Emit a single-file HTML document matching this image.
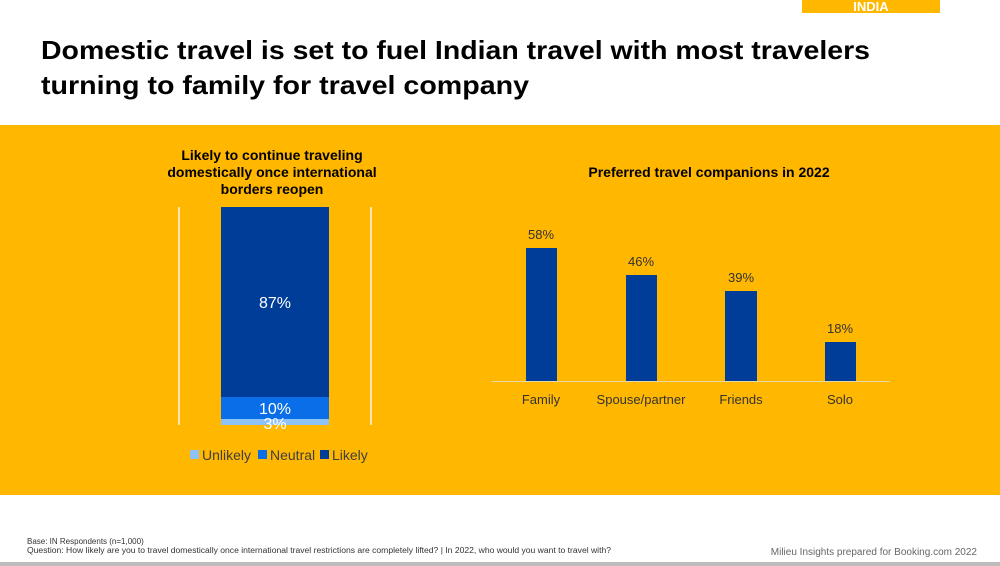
<!DOCTYPE html>
<html><head><meta charset="utf-8"><style>
html,body{margin:0;padding:0;background:#fff;}
svg{display:block;font-family:"Liberation Sans",sans-serif;}
</style></head><body>
<svg width="1000" height="566" viewBox="0 0 1000 566" xmlns="http://www.w3.org/2000/svg">
<rect x="0" y="0" width="1000" height="566" fill="#fff"/>
<rect x="802" y="0" width="138" height="13" fill="#FFB700"/>
<text x="871" y="11" font-size="13" font-weight="bold" fill="#fff" text-anchor="middle">INDIA</text>
<text x="41" y="59" font-size="26" font-weight="bold" fill="#000" textLength="829" lengthAdjust="spacingAndGlyphs">Domestic travel is set to fuel Indian travel with most travelers</text>
<text x="41" y="94" font-size="26" font-weight="bold" fill="#000" textLength="488" lengthAdjust="spacingAndGlyphs">turning to family for travel company</text>
<rect x="0" y="125" width="1000" height="370" fill="#FFB700"/>
<g font-size="14" font-weight="bold" fill="#000" text-anchor="middle">
<text x="272" y="160">Likely to continue traveling</text>
<text x="272" y="177">domestically once international</text>
<text x="272" y="194">borders reopen</text>
<text x="709" y="177">Preferred travel companions in 2022</text>
</g>
<rect x="178" y="207" width="2" height="218" fill="#F3E3B8"/>
<rect x="370" y="207" width="2" height="218" fill="#F3E3B8"/>
<rect x="221" y="207" width="108" height="190" fill="#003D99"/>
<rect x="221" y="397" width="108" height="22" fill="#0A6EE8"/>
<rect x="221" y="419" width="108" height="6" fill="#8FC3F7"/>
<g fill="#fff" font-size="16" text-anchor="middle">
<text x="275" y="308">87%</text>
<text x="275" y="414">10%</text>
<text x="275" y="429">3%</text>
</g>
<g font-size="14" fill="#404040">
<rect x="190" y="450" width="9" height="9" fill="#8FC3F7"/><text x="202" y="460">Unlikely</text>
<rect x="258" y="450" width="9" height="9" fill="#0A6EE8"/><text x="270" y="460">Neutral</text>
<rect x="320" y="450" width="9" height="9" fill="#003D99"/><text x="332" y="460">Likely</text>
</g>
<rect x="492" y="381" width="398" height="1" fill="#E8D9A8"/>
<g fill="#003D99">
<rect x="526" y="248" width="31" height="133"/>
<rect x="626" y="275" width="31" height="106"/>
<rect x="725" y="291" width="32" height="90"/>
<rect x="825" y="342" width="31" height="39"/>
</g>
<g font-size="13" fill="#333" text-anchor="middle">
<text x="541" y="239">58%</text>
<text x="641" y="266">46%</text>
<text x="741" y="282">39%</text>
<text x="840" y="333">18%</text>
<text x="541" y="404">Family</text>
<text x="641" y="404">Spouse/partner</text>
<text x="741" y="404">Friends</text>
<text x="840" y="404">Solo</text>
</g>
<text x="27" y="544" font-size="8" fill="#333">Base: IN Respondents (n=1,000)</text>
<text x="27" y="553" font-size="8" fill="#333" textLength="584" lengthAdjust="spacingAndGlyphs">Question: How likely are you to travel domestically once international travel restrictions are completely lifted? | In 2022, who would you want to travel with?</text>
<text x="977" y="555" font-size="10" fill="#666" text-anchor="end">Milieu Insights prepared for Booking.com 2022</text>
<rect x="0" y="562" width="1000" height="4" fill="#BDBDBD"/>
</svg>
</body></html>
